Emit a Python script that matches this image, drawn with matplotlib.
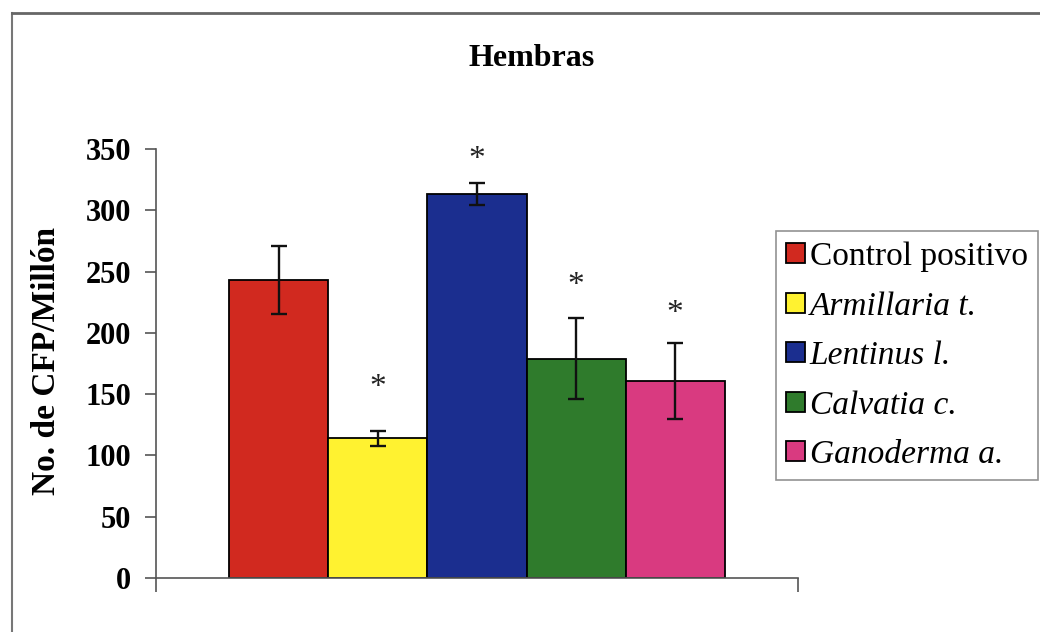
"""
Bar chart: CFP per million in females (Hembras), positive control vs. mushroom extracts.
Mean +/- error, asterisks mark significant differences from the control.
"""
import matplotlib
import matplotlib.pyplot as plt
from matplotlib.lines import Line2D
import numpy as np

matplotlib.use('Agg')

OUTPUT_PNG = "out.png"

# Data
groups = ['Control positivo', 'Armillaria t.', 'Lentinus l.', 'Calvatia c.', 'Ganoderma a.']
means = [243, 114, 313, 179, 161]
errors = [28, 6, 9, 33, 31]
significant = [False, True, True, True, True]

# Styling
BAR_COLORS = ['#D1291F', '#FFF230', '#1B2E8F', '#2F7B2C', '#D93A80']
ITALIC = [False, True, True, True, True]
STAR_PAD = [0, 31, 17, 23, 21]   # points above the error cap

plt.rcParams['font.family'] = ['Liberation Serif', 'DejaVu Serif']


def make_plot():
    fig = plt.figure(figsize=(10.4, 6.32), dpi=100)
    ax = fig.add_axes([0.150, 0.0854, 0.6173, 0.6788])

    x = np.arange(len(means)) - (len(means) - 1) / 2
    bars = ax.bar(x, means, width=1.0, color=BAR_COLORS, edgecolor='black',
                  linewidth=1.3, yerr=errors, capsize=6,
                  error_kw=dict(ecolor='#111111', elinewidth=1.7, capthick=1.7),
                  label=groups, zorder=2)

    # Significance asterisks
    for xi, m, e, sig, pad in zip(x, means, errors, significant, STAR_PAD):
        if sig:
            ax.annotate('*', xy=(xi, m + e), xytext=(0, pad), textcoords='offset points',
                        ha='center', va='center', fontsize=24, color='#222222')

    half = len(means) / 2 + 0.74
    ax.set_xlim(-half, half)
    ax.set_ylim(0, 350)
    ax.set_yticks(np.arange(0, 351, 50))
    ax.set_xticks([-half, half])
    ax.set_xticklabels(['', ''])

    for lbl in ax.get_yticklabels():
        lbl.set_fontweight('bold')
        lbl.set_fontsize(22)
    ax.tick_params(axis='y', direction='out', length=8, width=1.2, color='#555555', pad=10)
    ax.tick_params(axis='x', direction='out', length=10, width=1.2, color='#555555')

    for side in ['top', 'right']:
        ax.spines[side].set_visible(False)
    for side in ['left', 'bottom']:
        ax.spines[side].set_color('#555555')
        ax.spines[side].set_linewidth(1.2)

    ax.set_ylabel('No. de CFP/Millón', fontsize=24, fontweight='bold')
    ax.yaxis.set_label_coords(-0.146, 0.505)

    fig.text(0.511, 0.908, 'Hembras', ha='center', va='center',
             fontsize=23, fontweight='bold')

    leg = ax.legend(handles=list(bars), labels=groups, loc='upper left',
                    bbox_to_anchor=(0.746, 0.634), bbox_transform=fig.transFigure,
                    fontsize=24, frameon=True, fancybox=False, edgecolor='#777777',
                    handlelength=0.55, handleheight=0.55, handletextpad=0.15,
                    labelspacing=0.57, borderpad=0.31, borderaxespad=0)
    leg.get_frame().set_linewidth(1.2)
    for txt, it in zip(leg.get_texts(), ITALIC):
        if it:
            txt.set_fontstyle('italic')

    # Outer frame (left and top edges of the chart area)
    fig.add_artist(Line2D([0.0115, 0.0115], [0, 0.979], transform=fig.transFigure,
                          color='#777777', linewidth=1.5))
    fig.add_artist(Line2D([0.0115, 1.0], [0.979, 0.979], transform=fig.transFigure,
                          color='#666666', linewidth=2.0))

    fig.savefig(OUTPUT_PNG, dpi=100)
    plt.close(fig)


if __name__ == "__main__":
    make_plot()
